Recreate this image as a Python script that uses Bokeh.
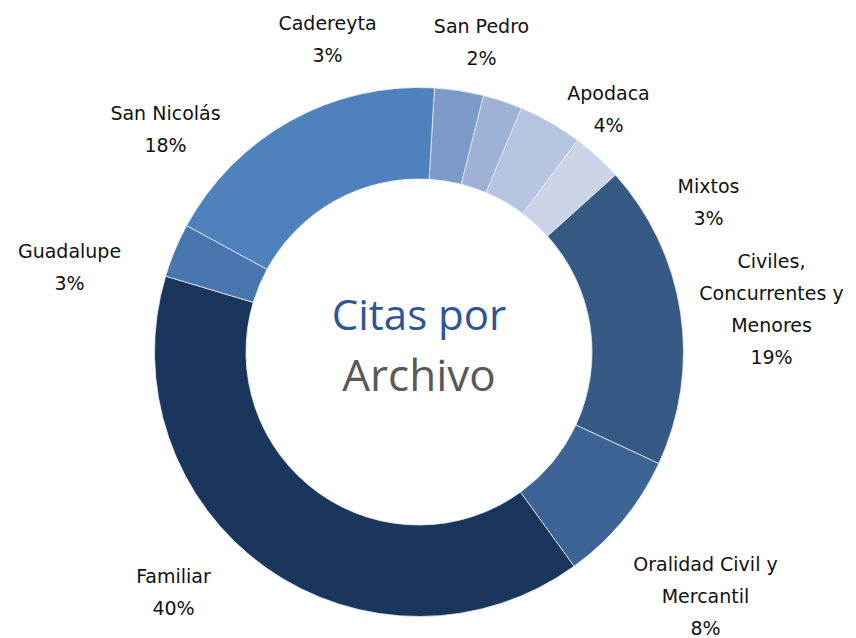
import math
from bokeh.plotting import figure
from bokeh.models import Range1d, ColumnDataSource
from bokeh.core.properties import value
from bokeh.embed import file_html
from bokeh.resources import INLINE

# ---- data (shares in %) ----
categories = ["Cadereyta", "San Pedro", "Apodaca", "Mixtos",
              "Civiles,\nConcurrentes y\nMenores", "Oralidad Civil y\nMercantil",
              "Familiar", "Guadalupe", "San Nicolás"]
shares = [3.0, 2.4, 3.9, 3.1, 18.6, 8.1, 39.6, 3.3, 18.0]
colors = ["#7D9BC8", "#9DB2D5", "#B5C4E0", "#CBD4E6", "#375A85",
          "#3C6495", "#1A365D", "#4877B0", "#4F81BD"]

# ---- layout ----
W, H = 856, 638
CX, CY = 418.5, H - 351.5
R_OUT, R_IN = 264.5, 173
FIRST_ANGLE = 3.35  # degrees, clockwise from 12 o'clock
# label anchors (screen px of first line centre)
label_pos = [(327, 22), (481, 25), (608, 92), (708, 185), (771, 260),
             (705, 563), (173, 575), (69, 250), (165, 112)]
LINE_H = 32

p = figure(width=W, height=H, output_backend="svg", toolbar_location=None,
           x_range=Range1d(0, W), y_range=Range1d(0, H), min_border=0)
p.axis.visible = False
p.grid.visible = False
p.outline_line_color = None
p.background_fill_color = "white"
p.border_fill_color = "white"

total = sum(shares)
starts, ends = [], []
acc = FIRST_ANGLE
for s in shares:
    a0 = acc
    a1 = acc + s / total * 360.0
    starts.append(math.radians(90 - a0))
    ends.append(math.radians(90 - a1))
    acc = a1

src = ColumnDataSource(dict(x=[CX] * len(shares), y=[CY] * len(shares),
                            start=starts, end=ends, color=colors))
p.annular_wedge(x="x", y="y", inner_radius=R_IN, outer_radius=R_OUT,
                start_angle="start", end_angle="end", direction="clock",
                fill_color="color", line_color="#E8EDF5", line_width=0.8,
                source=src)

# data labels
lx, ly, lt = [], [], []
for name, s, (px, py) in zip(categories, shares, label_pos):
    lines = name.split("\n") + ["%d%%" % int(s / total * 100 + 0.5)]
    for i, ln in enumerate(lines):
        lx.append(px)
        ly.append(H - (py + i * LINE_H))
        lt.append(ln)
p.text(x=lx, y=ly, text=lt, text_align="center", text_baseline="middle",
       text_font=value("DejaVu Sans"), text_font_size="19px", text_color="#111111")

# centre title
p.text(x=[CX], y=[H - 313], text=["Citas por"], text_align="center",
       text_baseline="middle", text_font=value("Open Sans"),
       text_font_size="42px", text_color="#2F5597")
p.text(x=[CX], y=[H - 373], text=["Archivo"], text_align="center",
       text_baseline="middle", text_font=value("Open Sans"),
       text_font_size="44px", text_color="#595959")

open("out.html", "w").write(file_html(p, INLINE))
